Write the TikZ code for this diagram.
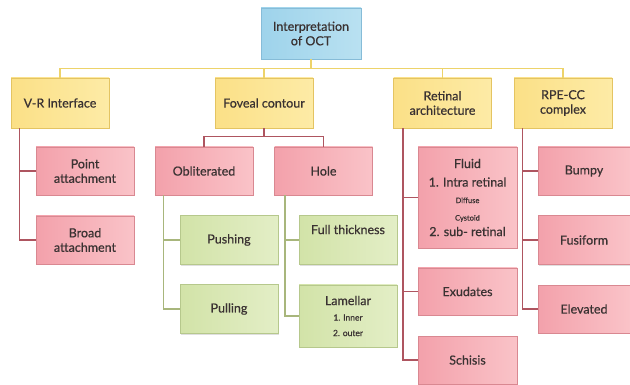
\documentclass[tikz,border=0pt]{standalone}
\usepackage{fontspec}
\setmainfont{Lato}
\newfontfamily\boxfont{Lato}[FakeBold=0.6]
\usetikzlibrary{positioning,shadows}

\definecolor{rootfillA}{HTML}{9ED3EB}
\definecolor{rootfillB}{HTML}{B9E1F1}
\definecolor{rootline}{HTML}{86BCD8}
\definecolor{yfillA}{HTML}{FBE087}
\definecolor{yfillB}{HTML}{FDEBA6}
\definecolor{yline}{HTML}{E4C462}
\definecolor{pfillA}{HTML}{F3A1AB}
\definecolor{pfillB}{HTML}{FAC3C8}
\definecolor{pline}{HTML}{D98891}
\definecolor{gfillA}{HTML}{D2E3A8}
\definecolor{gfillB}{HTML}{E3EEC6}
\definecolor{gline}{HTML}{B6C88C}
\definecolor{ylink}{HTML}{EDD36A}
\definecolor{rlink}{HTML}{AE5560}
\definecolor{glink}{HTML}{A8B67C}
\definecolor{txt}{HTML}{3A3232}

\begin{document}
\begin{tikzpicture}[x=1pt, y=-1pt,
    base/.style={draw, line width=0.8pt, align=center, text=txt, inner sep=1pt,
      font=\boxfont\fontsize{12.5}{14.5}\selectfont,
      drop shadow={shadow xshift=0.8pt, shadow yshift=-1.2pt, opacity=0.25}},
    topbox/.style={base, left color=rootfillA, right color=rootfillB, draw=rootline,
      minimum width=100pt, minimum height=51pt},
    catbox/.style={base, left color=yfillA, right color=yfillB, draw=yline,
      minimum width=98pt, minimum height=50pt},
    redbox/.style={base, left color=pfillA, right color=pfillB, draw=pline,
      minimum width=98pt, minimum height=48pt},
    greenbox/.style={base, left color=gfillA, right color=gfillB, draw=gline,
      minimum width=98pt, minimum height=49pt},
    ybus/.style={draw=ylink, line width=1.3pt},
    rbus/.style={draw=rlink, line width=1.3pt},
    gbus/.style={draw=glink, line width=1.3pt}
  ]
    \useasboundingbox (0,0) rectangle (630,385);
    % root and first level
    \node[topbox] (oct) at (311,33.5) {Interpretation\\of OCT};
    \node[catbox] (vr) at (60,103) {V-R Interface};
    \node[catbox] (fc) at (264,103) {Foveal contour};
    \node[catbox] (ra) at (442.5,103) {Retinal\\architecture};
    \node[catbox] (rpe) at (563,103) {RPE-CC\\complex};
    % V-R interface
    \node[redbox] (pa) at (85,171) {Point\\attachment};
    \node[redbox] (ba) at (85,240) {Broad\\attachment};
    % foveal contour
    \node[redbox] (obl) at (204,171) {Obliterated};
    \node[redbox] (hole) at (323.5,171) {Hole};
    \node[greenbox] (push) at (229,240) {Pushing};
    \node[greenbox] (pull) at (229,309) {Pulling};
    \node[greenbox, text depth=21pt] (full) at (348,240) {Full thickness};
    \node[greenbox, minimum height=62pt] (lam) at (348,316)
      {Lamellar\\[1pt]{\fontsize{8.5}{10}\selectfont 1. Inner}\\[1pt]{\fontsize{8.5}{10}\selectfont 2. outer}};
    % retinal architecture
    \node[redbox, minimum width=99pt, minimum height=101pt] (fluid) at (467.5,197.5)
      {Fluid\\[4pt]1. Intra retinal\\[2pt]{\fontsize{7.5}{9}\selectfont Diffuse}\\[3pt]{\fontsize{7.5}{9}\selectfont Cystoid}\\[1pt]2. sub- retinal};
    \node[redbox, minimum width=99pt, minimum height=47pt] (exu) at (467.5,291.5) {Exudates};
    \node[redbox, minimum width=99pt] (sch) at (467.5,360) {Schisis};
    % RPE-CC complex
    \node[redbox, minimum width=92pt] (bump) at (584,171) {Bumpy};
    \node[redbox, minimum width=92pt, minimum height=49pt] (fusi) at (584,240) {Fusiform};
    \node[redbox, minimum width=92pt] (elev) at (584,309) {Elevated};

    \draw[ybus] (oct.south) -- ++(0,9) -| (vr.north);
    \draw[ybus] (oct.south) -- ++(0,9) -| (fc.north);
    \draw[ybus] (oct.south) -- ++(0,9) -| (ra.north);
    \draw[ybus] (oct.south) -- ++(0,9) -| (rpe.north);

    \draw[rbus] ([xshift=9pt]vr.south west) |- (pa.west);
    \draw[rbus] ([xshift=9pt]vr.south west) |- (ba.west);

    \draw[rbus] (fc.south) -- ++(0,8) -| (obl.north);
    \draw[rbus] (fc.south) -- ++(0,8) -| (hole.north);
    \draw[gbus] ([xshift=9pt]obl.south west) |- (push.west);
    \draw[gbus] ([xshift=9pt]obl.south west) |- (pull.west);
    \draw[gbus] ([xshift=11pt]hole.south west) |- (full.west);
    \draw[gbus] ([xshift=11pt]hole.south west) |- (lam.west);

    \draw[rbus] ([xshift=10pt]ra.south west) |- (fluid.west);
    \draw[rbus] ([xshift=10pt]ra.south west) |- (exu.west);
    \draw[rbus] ([xshift=10pt]ra.south west) |- (sch.west);

    \draw[rbus] ([xshift=9pt]rpe.south west) |- (bump.west);
    \draw[rbus] ([xshift=9pt]rpe.south west) |- (fusi.west);
    \draw[rbus] ([xshift=9pt]rpe.south west) |- (elev.west);
  \end{tikzpicture}
\end{document}
